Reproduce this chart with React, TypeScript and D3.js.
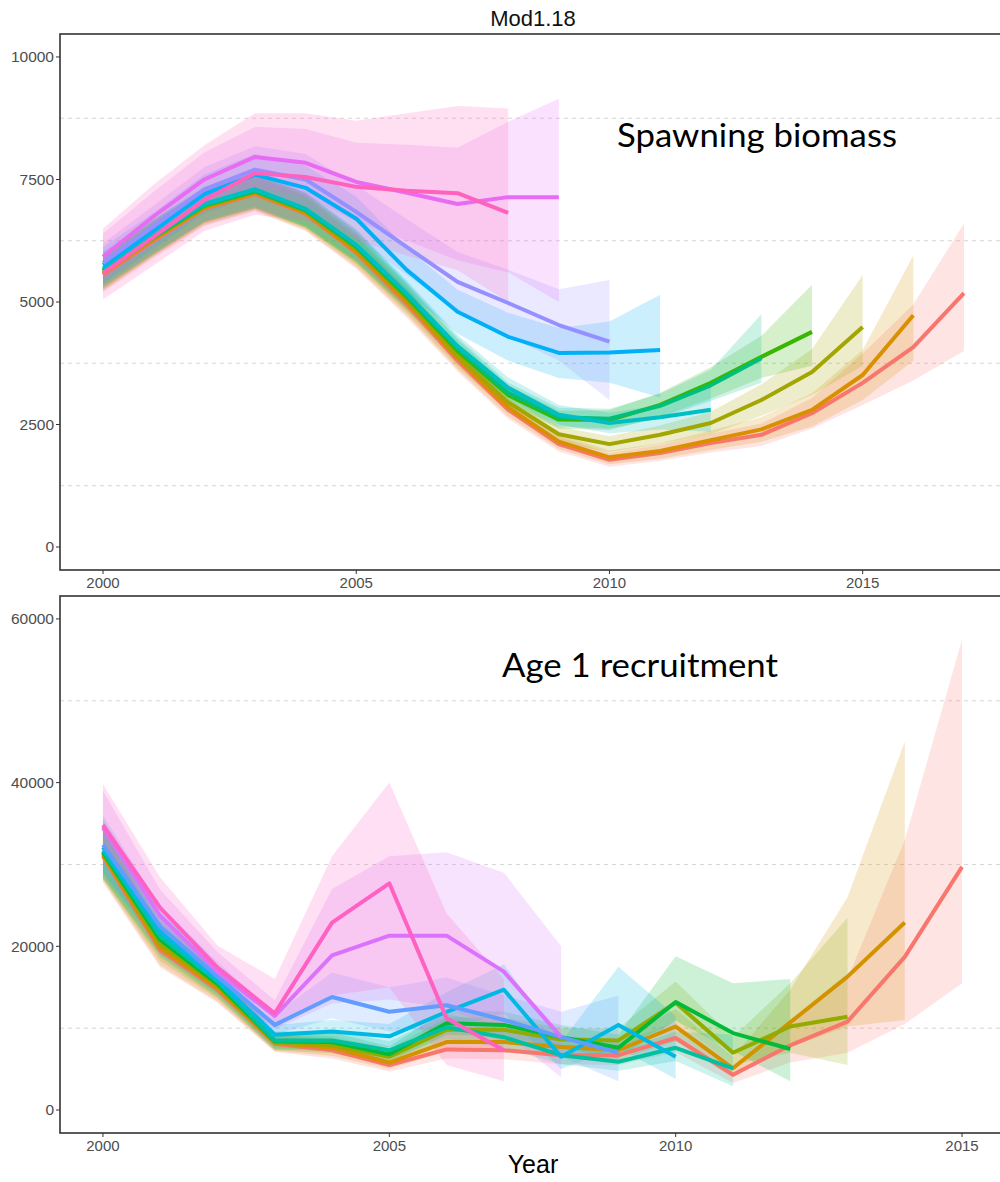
import React from "react";
import * as d3 from "d3";

const START_YEAR = 2000;
const xTickYears = [2000, 2005, 2010, 2015];

// ---------- Spawning biomass (top panel), retrospective peels ----------
const ssbColors = ["#F8766D", "#D89000", "#A3A500", "#39B600", "#00BF7D", "#00BFC4", "#00B0F6", "#9590FF", "#E76BF3", "#FF62BC"];
const ssbTicks = [0, 2500, 5000, 7500, 10000];
const ssbMinor = [1250, 3750, 6250, 8750];

const ssb2017 = [5550, 6250, 6900, 7200, 6800, 6000, 4950, 3800, 2800, 2100, 1780, 1920, 2120, 2290, 2730, 3350, 4080, 5180];
const ssb2017Lo = [5200, 5900, 6550, 6850, 6450, 5680, 4680, 3580, 2620, 1950, 1640, 1760, 1930, 2060, 2420, 2900, 3400, 4000];
const ssb2017Hi = [5900, 6600, 7250, 7550, 7150, 6320, 5220, 4020, 2980, 2250, 1920, 2080, 2310, 2520, 3040, 3950, 4950, 6600];

const ssb2016 = [5580, 6280, 6920, 7220, 6820, 6030, 5000, 3850, 2850, 2150, 1830, 1960, 2180, 2400, 2800, 3510, 4730];
const ssb2016Lo = [5230, 5930, 6570, 6870, 6470, 5710, 4730, 3630, 2670, 2000, 1690, 1800, 1980, 2150, 2460, 3000, 3800];
const ssb2016Hi = [5930, 6630, 7270, 7570, 7170, 6350, 5270, 4070, 3030, 2300, 1970, 2120, 2380, 2650, 3140, 4020, 5950];

const ssb2015 = [5600, 6300, 6950, 7250, 6850, 6080, 5050, 3900, 2950, 2300, 2100, 2290, 2530, 3000, 3570, 4490];
const ssb2015Lo = [5250, 5950, 6600, 6900, 6500, 5760, 4780, 3680, 2760, 2140, 1940, 2100, 2300, 2680, 3100, 3700];
const ssb2015Hi = [5950, 6650, 7300, 7600, 7200, 6400, 5320, 4120, 3140, 2460, 2260, 2480, 2760, 3320, 4040, 5550];

const ssb2014 = [5630, 6320, 6970, 7260, 6870, 6120, 5100, 4000, 3100, 2600, 2590, 2900, 3350, 3880, 4390];
const ssb2014Lo = [5280, 5970, 6620, 6910, 6520, 5800, 4830, 3770, 2900, 2420, 2390, 2650, 3030, 3450, 3700];
const ssb2014Hi = [5980, 6670, 7320, 7610, 7220, 6440, 5370, 4230, 3300, 2780, 2790, 3150, 3670, 4310, 5350];

const ssb2013 = [5650, 6330, 6980, 7270, 6880, 6140, 5130, 4050, 3150, 2650, 2620, 2880, 3300, 3850];
const ssb2013Lo = [5300, 5980, 6630, 6920, 6530, 5820, 4860, 3820, 2950, 2460, 2420, 2630, 2980, 3350];
const ssb2013Hi = [6000, 6680, 7330, 7620, 7230, 6460, 5400, 4280, 3350, 2840, 2820, 3130, 3620, 4750];

const ssb2012 = [5680, 6350, 7000, 7300, 6900, 6170, 5170, 4100, 3250, 2700, 2530, 2650, 2800];
const ssb2012Lo = [5330, 6000, 6650, 6950, 6550, 5850, 4900, 3870, 3040, 2500, 2320, 2400, 2350];
const ssb2012Hi = [6030, 6700, 7350, 7650, 7250, 6490, 5440, 4330, 3460, 2900, 2740, 2900, 3350];

const ssb2011 = [5750, 6450, 7200, 7600, 7330, 6700, 5650, 4800, 4290, 3960, 3970, 4020];
const ssb2011Lo = [5380, 6080, 6800, 7180, 6880, 6250, 5200, 4350, 3800, 3450, 3350, 3050];
const ssb2011Hi = [6120, 6820, 7600, 8020, 7780, 7150, 6100, 5250, 4780, 4470, 4600, 5150];

const ssb2010 = [5800, 6550, 7300, 7700, 7500, 6840, 6120, 5410, 4980, 4530, 4190];
const ssb2010Lo = [5400, 6130, 6850, 7220, 6980, 6300, 5550, 4800, 4300, 3800, 3000];
const ssb2010Hi = [6200, 6970, 7750, 8180, 8020, 7380, 6690, 6020, 5660, 5260, 5450];

const ssb2009 = [5920, 6750, 7500, 7960, 7840, 7450, 7230, 7000, 7140, 7140];
const ssb2009Lo = [5450, 6250, 6950, 7350, 7150, 6650, 6250, 5850, 5600, 5000];
const ssb2009Hi = [6400, 7250, 8050, 8570, 8530, 8250, 8210, 8150, 8680, 9150];

const ssb2008 = [5590, 6330, 7080, 7630, 7550, 7350, 7270, 7220, 6820];
const ssb2008Lo = [5050, 5750, 6450, 6780, 6650, 6250, 5950, 5650, 5000];
const ssb2008Hi = [6500, 7400, 8200, 8850, 8850, 8700, 8850, 9000, 8950];

// ---------- Age 1 recruitment (bottom panel) ----------
const recColors = ["#F8766D", "#D39200", "#93AA00", "#00BA38", "#00C19F", "#00B9E3", "#619CFF", "#DB72FB", "#FF61C3"];
const recTicks = [0, 20000, 40000, 60000];
const recMinor = [10000, 30000, 50000];

const rec2015 = [31000, 19500, 14700, 8100, 7300, 5500, 7400, 7300, 6700, 6700, 8800, 4300, 7900, 10800, 18700, 29700];
const rec2015Lo = [27800, 17400, 13100, 7100, 6300, 4700, 6300, 6200, 5600, 5500, 7100, 3300, 5800, 7000, 10500, 15500];
const rec2015Hi = [34500, 21800, 16500, 9200, 8400, 6400, 8600, 8500, 7900, 8100, 10800, 5500, 10500, 16000, 33000, 57500];

const rec2014 = [31200, 19800, 14900, 8200, 7600, 5800, 8300, 8300, 7700, 7300, 10200, 5100, 10700, 16300, 22900];
const rec2014Lo = [28000, 17700, 13300, 7200, 6600, 5000, 7200, 7100, 6600, 6100, 8400, 4000, 7700, 10200, 11000];
const rec2014Hi = [34700, 22100, 16700, 9300, 8700, 6700, 9600, 9700, 9000, 8700, 12300, 6500, 14700, 26000, 45000];

const rec2013 = [31400, 20300, 15200, 8300, 7900, 6500, 9800, 9800, 8600, 8500, 13100, 7000, 10200, 11400];
const rec2013Lo = [28200, 18200, 13600, 7300, 6900, 5600, 8500, 8500, 7400, 7200, 10900, 5500, 7000, 5500];
const rec2013Hi = [34900, 22600, 17000, 9400, 9000, 7500, 11300, 11300, 10000, 10000, 15700, 8900, 15500, 23500];

const rec2012 = [31500, 20800, 15400, 8400, 8300, 6800, 10600, 10400, 8900, 7600, 13200, 9400, 7450];
const rec2012Lo = [28300, 18700, 13800, 7400, 7200, 5900, 9200, 9000, 7600, 6300, 10900, 7200, 3500];
const rec2012Hi = [35000, 23100, 17200, 9500, 9500, 7800, 12200, 12000, 10400, 9200, 18800, 15500, 16000];

const rec2011 = [31700, 21200, 15700, 8500, 8500, 7300, 10100, 8900, 6700, 5900, 7600, 5100];
const rec2011Lo = [28500, 19000, 14100, 7500, 7400, 6300, 8700, 7600, 5600, 4800, 6000, 2900];
const rec2011Hi = [35200, 23500, 17500, 9600, 9700, 8400, 11700, 10400, 8000, 7200, 9600, 9200];

const rec2010 = [32100, 21800, 15900, 9200, 9600, 9000, 12000, 14700, 6500, 10400, 6500];
const rec2010Lo = [28900, 19600, 14300, 8100, 8300, 7700, 9900, 11800, 5000, 7600, 3800];
const rec2010Hi = [35600, 24200, 17700, 10400, 11000, 10500, 14400, 17800, 8300, 17500, 11500];

const rec2009 = [32400, 22400, 16300, 10400, 13800, 12000, 12800, 11000, 8900, 7000];
const rec2009Lo = [29100, 20100, 14600, 9200, 11200, 9600, 10000, 8500, 6500, 3500];
const rec2009Hi = [36000, 24900, 18100, 11700, 16800, 15000, 16200, 14000, 12000, 14000];

const rec2008 = [34500, 23700, 16900, 11500, 18900, 21300, 21300, 16900, 8900];
const rec2008Lo = [30500, 20800, 14800, 9900, 13000, 13500, 12500, 9500, 4000];
const rec2008Hi = [39000, 26900, 19300, 13400, 27000, 31000, 31500, 29000, 20000];

const rec2007 = [34800, 24700, 17400, 11800, 22900, 27700, 11200, 7300];
const rec2007Lo = [30500, 21500, 15100, 10000, 14000, 15000, 5500, 3500];
const rec2007Hi = [39800, 28400, 20100, 16000, 31000, 40000, 24000, 16000];

type Series = { color: string; val: number[]; lo: number[]; hi: number[] };

const ssbSeries: Series[] = [
  [ssb2017, ssb2017Lo, ssb2017Hi],
  [ssb2016, ssb2016Lo, ssb2016Hi],
  [ssb2015, ssb2015Lo, ssb2015Hi],
  [ssb2014, ssb2014Lo, ssb2014Hi],
  [ssb2013, ssb2013Lo, ssb2013Hi],
  [ssb2012, ssb2012Lo, ssb2012Hi],
  [ssb2011, ssb2011Lo, ssb2011Hi],
  [ssb2010, ssb2010Lo, ssb2010Hi],
  [ssb2009, ssb2009Lo, ssb2009Hi],
  [ssb2008, ssb2008Lo, ssb2008Hi],
].map((s, i) => ({ color: ssbColors[i], val: s[0], lo: s[1], hi: s[2] }));

const recSeries: Series[] = [
  [rec2015, rec2015Lo, rec2015Hi],
  [rec2014, rec2014Lo, rec2014Hi],
  [rec2013, rec2013Lo, rec2013Hi],
  [rec2012, rec2012Lo, rec2012Hi],
  [rec2011, rec2011Lo, rec2011Hi],
  [rec2010, rec2010Lo, rec2010Hi],
  [rec2009, rec2009Lo, rec2009Hi],
  [rec2008, rec2008Lo, rec2008Hi],
  [rec2007, rec2007Lo, rec2007Hi],
].map((s, i) => ({ color: recColors[i], val: s[0], lo: s[1], hi: s[2] }));

type PanelProps = {
  left: number; right: number; top: number; bottom: number;
  xDomain: [number, number]; yDomain: [number, number];
  yTicks: number[]; yMinor: number[]; series: Series[]; id: string;
};

function Panel({ left, right, top, bottom, xDomain, yDomain, yTicks, yMinor, series, id }: PanelProps) {
  const x = d3.scaleLinear().domain(xDomain).range([left, right]);
  const y = d3.scaleLinear().domain(yDomain).range([bottom, top]);
  const line = d3.line<number>().x((_, i) => x(START_YEAR + i)).y((d) => y(d));
  const tickColor = "#4D4D4D";
  return (
    <g>
      <defs>
        <clipPath id={id}>
          <rect x={left} y={top} width={right - left} height={bottom - top} />
        </clipPath>
      </defs>
      {yMinor.map((v) => (
        <line key={"m" + v} x1={left} x2={right} y1={y(v)} y2={y(v)} stroke="#d6d6d6" strokeWidth={1} strokeDasharray="4,4" />
      ))}
      <g clipPath={`url(#${id})`}>
        {series.map((s, k) => {
          const a = d3.area<number>()
            .x((_, i) => x(START_YEAR + i))
            .y0((_, i) => y(s.lo[i]))
            .y1((_, i) => y(s.hi[i]));
          return <path key={"r" + k} d={a(s.val) || ""} fill={s.color} fillOpacity={0.2} stroke="none" />;
        })}
        {series.map((s, k) => (
          <path key={"l" + k} d={line(s.val) || ""} fill="none" stroke={s.color} strokeWidth={4} strokeLinejoin="round" />
        ))}
      </g>
      <rect x={left} y={top} width={right - left} height={bottom - top} fill="none" stroke="#333" strokeWidth={1.6} />
      {yTicks.map((v) => (
        <g key={"y" + v}>
          <line x1={left - 4} x2={left} y1={y(v)} y2={y(v)} stroke="#333" strokeWidth={1} />
          <text x={left - 6} y={y(v)} dy="0.35em" textAnchor="end" fontSize={15.5} fill={tickColor} fontFamily="Liberation Sans, Arial, sans-serif">{v}</text>
        </g>
      ))}
      {xTickYears.map((v) => (
        <g key={"x" + v}>
          <line x1={x(v)} x2={x(v)} y1={bottom} y2={bottom + 4} stroke="#333" strokeWidth={1} />
          <text x={x(v)} y={bottom + 18} textAnchor="middle" fontSize={15} fill={tickColor} fontFamily="Liberation Sans, Arial, sans-serif">{v}</text>
        </g>
      ))}
    </g>
  );
}

export default function App() {
  return (
    <svg width={1000} height={1182} style={{ position: "absolute", left: 0, top: 0, background: "#fff" }}>
      <rect x={0} y={0} width={1000} height={1182} fill="#fff" />
      <text x={533} y={26} textAnchor="middle" fontSize={22} fontFamily="Liberation Sans, Arial, sans-serif" fill="#111">Mod1.18</text>
      <Panel id="clipTop" left={60} right={1007} top={34} bottom={570}
        xDomain={[1999.15, 2017.85]} yDomain={[-469, 10469]}
        yTicks={ssbTicks} yMinor={ssbMinor} series={ssbSeries} />
      <Panel id="clipBot" left={60} right={1005} top={596} bottom={1133}
        xDomain={[1999.25, 2015.75]} yDomain={[-2810, 62800]}
        yTicks={recTicks} yMinor={recMinor} series={recSeries} />
      <text x={617} y={147} fontSize={33} fontFamily="Lato, Open Sans, sans-serif" fill="#000" textLength={280} lengthAdjust="spacingAndGlyphs">Spawning biomass</text>
      <text x={502} y={677} fontSize={33} fontFamily="Lato, Open Sans, sans-serif" fill="#000" textLength={276} lengthAdjust="spacingAndGlyphs">Age 1 recruitment</text>
      <text x={533} y={1173} textAnchor="middle" fontSize={25} fontFamily="Liberation Sans, Arial, sans-serif" fill="#000">Year</text>
    </svg>
  );
}
